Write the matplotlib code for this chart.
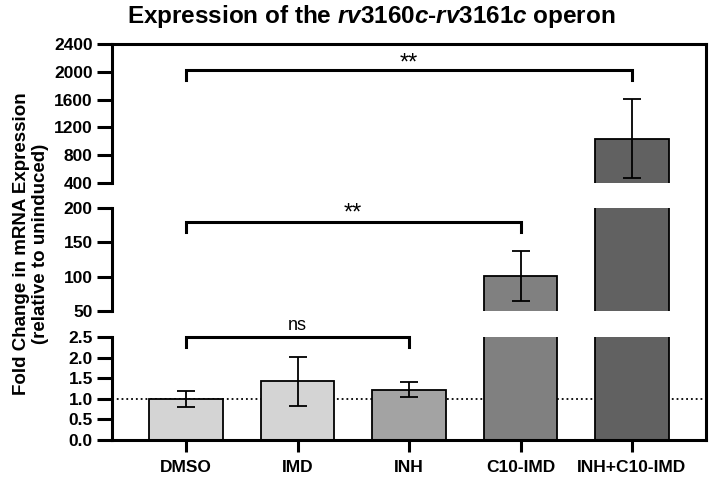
import matplotlib
matplotlib.use('Agg')
import matplotlib.pyplot as plt
from matplotlib.lines import Line2D

# données
groups = ['DMSO', 'IMD', 'INH', 'C10-IMD', 'INH+C10-IMD']
fold_change = [1.0, 1.42, 1.22, 101, 1035]
sd = [0.19, 0.60, 0.18, 37, 570]
bar_colors = ['#d4d4d4', '#d4d4d4', '#a3a3a3', '#808080', '#616161']

# les trois morceaux de l'axe y coupé
low_ticks = [0.0, 0.5, 1.0, 1.5, 2.0, 2.5]
mid_ticks = [50, 100, 150, 200]
high_ticks = [400, 800, 1200, 1600, 2000, 2400]

plt.rcParams['font.family'] = ['Liberation Sans', 'DejaVu Sans']
plt.rcParams['mathtext.fontset'] = 'custom'
plt.rcParams['mathtext.it'] = 'Liberation Sans:italic:bold'
plt.rcParams['mathtext.rm'] = 'Liberation Sans:bold'

W, H = 710, 483
fig = plt.figure(figsize=(W / 100, H / 100), dpi=100)

def fx(px):
    return px / W

def fy(px):
    return 1 - px / H

left, right = 112, 706
x0, step = 186, 111.5
xlim = ((left - x0) / step, (right - x0) / step)

ax_low = fig.add_axes([fx(left), fy(440), fx(right - left), (440 - 337) / H])
ax_mid = fig.add_axes([fx(left), fy(311), fx(right - left), (311 - 208) / H])
ax_high = fig.add_axes([fx(left), fy(183), fx(right - left), (183 - 44) / H])

lw = 2.2
xs = list(range(len(groups)))
for ax, ticks in [(ax_low, low_ticks), (ax_mid, mid_ticks), (ax_high, high_ticks)]:
    ax.bar(xs, fold_change, width=0.66, color=bar_colors, edgecolor='black',
           linewidth=1.3, zorder=2)
    ax.errorbar(xs, fold_change, yerr=sd, fmt='none', ecolor='black',
                elinewidth=1.3, capsize=6.5, capthick=1.3, zorder=3)
    ax.set_xlim(*xlim)
    ax.set_ylim(ticks[0], ticks[-1])
    ax.set_yticks(ticks)
    if ax is ax_low:
        ax.set_yticklabels(['%.1f' % t for t in ticks])
    else:
        ax.set_yticklabels(['%d' % t for t in ticks])
    for s in ['top', 'right', 'bottom']:
        ax.spines[s].set_visible(False)
    ax.spines['left'].set_linewidth(lw)
    ax.tick_params(axis='y', length=10.8, width=lw, pad=3, labelsize=12.5)
    for lab in ax.get_yticklabels():
        lab.set_fontweight('bold')
    ax.patch.set_visible(False)

ax_mid.set_xticks([])
ax_high.set_xticks([])
ax_high.spines['top'].set_visible(True)
ax_high.spines['top'].set_linewidth(lw)

ax_low.spines['bottom'].set_visible(True)
ax_low.spines['bottom'].set_linewidth(lw)
ax_low.set_xticks(xs)
ax_low.set_xticklabels(groups, fontsize=12.5, fontweight='bold')
ax_low.tick_params(axis='x', length=8.6, width=lw, pad=5.5)
ax_low.axhline(1.0, color='black', linestyle=':', linewidth=1.3, zorder=1)

# bord droit du cadre
fig.add_artist(Line2D([fx(right), fx(right)], [fy(44), fy(440)],
                      transform=fig.transFigure, color='black', linewidth=lw))

# crochets de significativité
def bracket(ax, xa, xb, y, tip, label, ty, size=12, mid=None):
    ax.plot([xa, xa, xb, xb], [tip, y, y, tip], color='black', linewidth=lw,
            clip_on=False, solid_joinstyle='miter', zorder=4)
    if mid is not None:
        ax.plot([mid, mid], [y, tip], color='black', linewidth=lw,
                clip_on=False, zorder=4)
    ax.text((xa + xb) / 2, ty, label, ha='center', va='baseline',
            fontsize=size, clip_on=False)

bracket(ax_high, 0, 4, 2026, 1882, '**', 2026, size=17)
bracket(ax_mid, 0, 3, 179.6, 165, '**', 182.5, size=17)
bracket(ax_low, 0, 2, 2.5, 2.26, 'ns', 2.68, size=13)

fig.text(fx(31), fy(244), 'Fold Change in mRNA Expression\n(relative to uninduced)',
         rotation=90, ha='center', va='center', fontsize=13.5, fontweight='bold',
         multialignment='center', linespacing=1.15)

fig.text(fx(371), fy(17), r'Expression of the $\mathit{rv3160c}$-$\mathit{rv3161c}$ operon',
         ha='center', va='center', fontsize=17.5, fontweight='bold')

fig.savefig('out.png', dpi=100)
